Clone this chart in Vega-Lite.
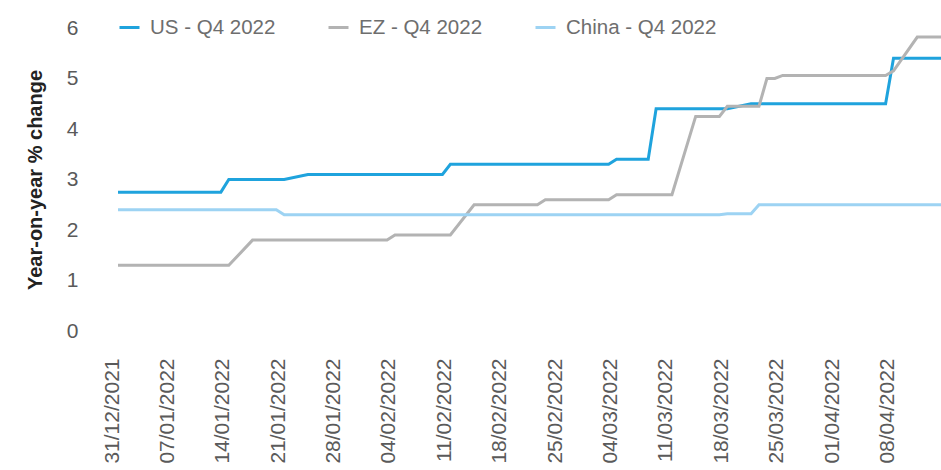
{
  "$schema": "https://vega.github.io/schema/vega-lite/v6.json",
  "autosize": {"type": "none"},
  "padding": {"left": 118, "top": 28, "right": 0, "bottom": 139},
  "width": 823,
  "height": 303,
  "config": {
    "view": {"stroke": null},
    "font": "Liberation Sans"
  },
  "data": {
    "values": [
      {"series": "US - Q4 2022", "date": "2021-12-31", "value": 2.75},
      {"series": "US - Q4 2022", "date": "2022-01-13", "value": 2.75},
      {"series": "US - Q4 2022", "date": "2022-01-14", "value": 3.0},
      {"series": "US - Q4 2022", "date": "2022-01-21", "value": 3.0},
      {"series": "US - Q4 2022", "date": "2022-01-24", "value": 3.1},
      {"series": "US - Q4 2022", "date": "2022-02-10", "value": 3.1},
      {"series": "US - Q4 2022", "date": "2022-02-11", "value": 3.3},
      {"series": "US - Q4 2022", "date": "2022-03-03", "value": 3.3},
      {"series": "US - Q4 2022", "date": "2022-03-04", "value": 3.4},
      {"series": "US - Q4 2022", "date": "2022-03-08", "value": 3.4},
      {"series": "US - Q4 2022", "date": "2022-03-09", "value": 4.4},
      {"series": "US - Q4 2022", "date": "2022-03-18", "value": 4.4},
      {"series": "US - Q4 2022", "date": "2022-03-21", "value": 4.5},
      {"series": "US - Q4 2022", "date": "2022-04-07", "value": 4.5},
      {"series": "US - Q4 2022", "date": "2022-04-08", "value": 5.4},
      {"series": "US - Q4 2022", "date": "2022-04-14", "value": 5.4},
      {"series": "EZ - Q4 2022", "date": "2021-12-31", "value": 1.3},
      {"series": "EZ - Q4 2022", "date": "2022-01-14", "value": 1.3},
      {"series": "EZ - Q4 2022", "date": "2022-01-17", "value": 1.8},
      {"series": "EZ - Q4 2022", "date": "2022-02-03", "value": 1.8},
      {"series": "EZ - Q4 2022", "date": "2022-02-04", "value": 1.9},
      {"series": "EZ - Q4 2022", "date": "2022-02-11", "value": 1.9},
      {"series": "EZ - Q4 2022", "date": "2022-02-14", "value": 2.5},
      {"series": "EZ - Q4 2022", "date": "2022-02-22", "value": 2.5},
      {"series": "EZ - Q4 2022", "date": "2022-02-23", "value": 2.6},
      {"series": "EZ - Q4 2022", "date": "2022-03-03", "value": 2.6},
      {"series": "EZ - Q4 2022", "date": "2022-03-04", "value": 2.7},
      {"series": "EZ - Q4 2022", "date": "2022-03-11", "value": 2.7},
      {"series": "EZ - Q4 2022", "date": "2022-03-14", "value": 4.25},
      {"series": "EZ - Q4 2022", "date": "2022-03-17", "value": 4.25},
      {"series": "EZ - Q4 2022", "date": "2022-03-18", "value": 4.45},
      {"series": "EZ - Q4 2022", "date": "2022-03-22", "value": 4.45},
      {"series": "EZ - Q4 2022", "date": "2022-03-23", "value": 5.0},
      {"series": "EZ - Q4 2022", "date": "2022-03-24", "value": 5.0},
      {"series": "EZ - Q4 2022", "date": "2022-03-25", "value": 5.06},
      {"series": "EZ - Q4 2022", "date": "2022-04-07", "value": 5.06},
      {"series": "EZ - Q4 2022", "date": "2022-04-08", "value": 5.15},
      {"series": "EZ - Q4 2022", "date": "2022-04-11", "value": 5.82},
      {"series": "EZ - Q4 2022", "date": "2022-04-14", "value": 5.82},
      {"series": "China - Q4 2022", "date": "2021-12-31", "value": 2.4},
      {"series": "China - Q4 2022", "date": "2022-01-20", "value": 2.4},
      {"series": "China - Q4 2022", "date": "2022-01-21", "value": 2.3},
      {"series": "China - Q4 2022", "date": "2022-03-17", "value": 2.3},
      {"series": "China - Q4 2022", "date": "2022-03-18", "value": 2.32},
      {"series": "China - Q4 2022", "date": "2022-03-21", "value": 2.32},
      {"series": "China - Q4 2022", "date": "2022-03-22", "value": 2.5},
      {"series": "China - Q4 2022", "date": "2022-04-14", "value": 2.5}
    ]
  },
  "mark": {"type": "line", "strokeWidth": 3, "clip": false},
  "encoding": {
    "x": {
      "field": "date",
      "type": "temporal",
      "scale": {
        "type": "utc",
        "domain": [
          {"year": 2021, "month": 12, "date": 31, "utc": true},
          {"year": 2022, "month": 4, "date": 14, "utc": true}
        ]
      },
      "axis": {
        "title": null,
        "labelExpr": "utcFormat(datum.value, '%d/%m/%Y')",
        "values": [
          {"year": 2021, "month": 12, "date": 31, "utc": true},
          {"year": 2022, "month": 1, "date": 7, "utc": true},
          {"year": 2022, "month": 1, "date": 14, "utc": true},
          {"year": 2022, "month": 1, "date": 21, "utc": true},
          {"year": 2022, "month": 1, "date": 28, "utc": true},
          {"year": 2022, "month": 2, "date": 4, "utc": true},
          {"year": 2022, "month": 2, "date": 11, "utc": true},
          {"year": 2022, "month": 2, "date": 18, "utc": true},
          {"year": 2022, "month": 2, "date": 25, "utc": true},
          {"year": 2022, "month": 3, "date": 4, "utc": true},
          {"year": 2022, "month": 3, "date": 11, "utc": true},
          {"year": 2022, "month": 3, "date": 18, "utc": true},
          {"year": 2022, "month": 3, "date": 25, "utc": true},
          {"year": 2022, "month": 4, "date": 1, "utc": true},
          {"year": 2022, "month": 4, "date": 8, "utc": true}
        ],
        "labelAngle": 270,
        "labelAlign": "right",
        "labelBaseline": "alphabetic",
        "labelFlush": false,
        "labelOverlap": false,
        "labelPadding": 27,
        "labelFontSize": 21,
        "labelColor": "#5a5a5a",
        "ticks": false,
        "domain": false,
        "grid": false
      }
    },
    "y": {
      "field": "value",
      "type": "quantitative",
      "scale": {"domain": [0, 6], "nice": false},
      "axis": {
        "title": "Year-on-year % change",
        "titleFontSize": 20,
        "titleFontWeight": "bold",
        "titleColor": "#222222",
        "titlePadding": 21,
        "values": [0, 1, 2, 3, 4, 5, 6],
        "labelFontSize": 21,
        "labelColor": "#5a5a5a",
        "labelPadding": 40,
        "ticks": false,
        "domain": false,
        "grid": false
      }
    },
    "color": {
      "field": "series",
      "type": "nominal",
      "scale": {
        "domain": ["US - Q4 2022", "EZ - Q4 2022", "China - Q4 2022"],
        "range": ["#1fa3dd", "#b3b3b3", "#9dd3f3"]
      },
      "legend": {
        "title": null,
        "orient": "none",
        "direction": "horizontal",
        "legendX": 0,
        "legendY": -12,
        "symbolType": "stroke",
        "symbolSize": 400,
        "symbolStrokeWidth": 3,
        "labelFontSize": 20.5,
        "labelColor": "#6e6e6e",
        "labelOffset": 9,
        "columnPadding": 46
      }
    }
  }
}
